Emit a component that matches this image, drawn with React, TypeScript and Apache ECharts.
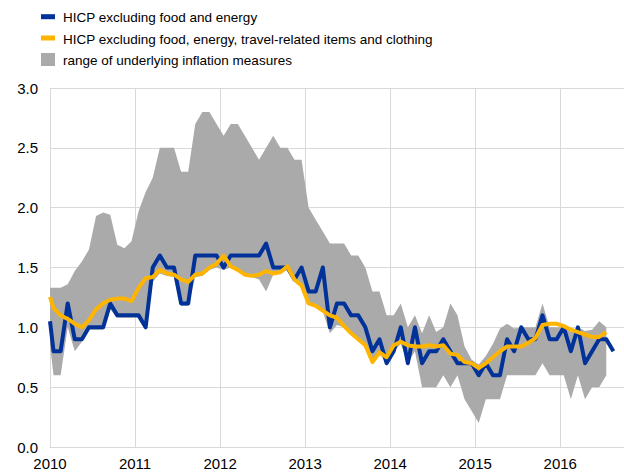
import React, { useEffect, useRef } from "react";
import * as echarts from "echarts";

// Monthly observations, first entry = December 2009
const firstMonth = "2009-12";
const yearTicks = ["2010", "2011", "2012", "2013", "2014", "2015", "2016"];

// HICP excluding food and energy (Dec 2009 - Aug 2016)
const hicpExFoodEnergy = [
  1.3,
  0.8, 0.8, 1.2, 0.9, 0.9, 1.0, 1.0, 1.0, 1.2, 1.1, 1.1, 1.1,
  1.1, 1.0, 1.5, 1.6, 1.5, 1.5, 1.2, 1.2, 1.6, 1.6, 1.6, 1.6,
  1.5, 1.6, 1.6, 1.6, 1.6, 1.6, 1.7, 1.5, 1.5, 1.5, 1.4, 1.5,
  1.3, 1.3, 1.5, 1.0, 1.2, 1.2, 1.1, 1.1, 1.0, 0.8, 0.9, 0.7,
  0.8, 1.0, 0.7, 1.0, 0.7, 0.8, 0.8, 0.9, 0.8, 0.7, 0.7, 0.7,
  0.6, 0.7, 0.6, 0.6, 0.9, 0.8, 1.0, 0.9, 0.9, 1.1, 0.9, 0.9,
  1.0, 0.8, 1.0, 0.7, 0.8, 0.9, 0.9, 0.8,
];

// HICP excluding food, energy, travel-related items and clothing (Dec 2009 - Jul 2016)
const hicpExTravelClothing = [
  1.35,
  1.16, 1.10, 1.07, 1.03, 1.00, 1.06, 1.15, 1.20, 1.23, 1.24, 1.24, 1.22,
  1.33, 1.41, 1.42, 1.48, 1.45, 1.44, 1.40, 1.38, 1.44, 1.45, 1.50, 1.53,
  1.60, 1.51, 1.48, 1.44, 1.43, 1.44, 1.47, 1.45, 1.46, 1.51, 1.40, 1.35,
  1.20, 1.18, 1.14, 1.10, 1.08, 1.01, 0.95, 0.90, 0.85, 0.71, 0.79, 0.75,
  0.85, 0.88, 0.85, 0.84, 0.84, 0.85, 0.84, 0.85, 0.78, 0.77, 0.71, 0.70,
  0.66, 0.70, 0.75, 0.80, 0.84, 0.84, 0.84, 0.87, 0.91, 1.02, 1.03, 1.03,
  1.01, 0.98, 0.96, 0.94, 0.92, 0.92, 0.96,
];

// Range of underlying inflation measures (Dec 2009 - Jul 2016)
const rangeUpper = [
  1.33,
  1.33, 1.33, 1.36, 1.47, 1.55, 1.65, 1.93, 1.96, 1.94, 1.69, 1.66, 1.72,
  1.97, 2.13, 2.25, 2.5, 2.5, 2.5, 2.3, 2.3, 2.7, 2.8, 2.8, 2.7,
  2.6, 2.7, 2.7, 2.6, 2.5, 2.4, 2.5, 2.6, 2.5, 2.5, 2.4, 2.4,
  2.0, 1.9, 1.8, 1.7, 1.7, 1.7, 1.6, 1.6, 1.5, 1.3, 1.3, 1.1,
  1.1, 1.2, 1.0, 1.1, 0.95, 1.1, 0.96, 1.0, 1.2, 1.1, 0.84, 0.73,
  0.69, 0.76, 0.86, 0.99, 1.03, 0.99, 1.0, 1.0, 1.0, 1.2, 1.0, 1.0,
  1.0, 0.96, 1.0, 0.97, 0.98, 1.05, 1.0,
];
const rangeLower = [
  1.1,
  0.6, 0.6, 1.0, 0.8, 0.88, 0.98, 0.98, 0.98, 1.15, 1.08, 1.08, 1.08,
  1.08, 0.98, 1.38, 1.45, 1.43, 1.42, 1.18, 1.18, 1.42, 1.43, 1.48, 1.5,
  1.48, 1.5, 1.47, 1.43, 1.42, 1.4, 1.3, 1.44, 1.45, 1.48, 1.38, 1.33,
  1.19, 1.17, 1.13, 0.95, 1.02, 1.0, 0.94, 0.89, 0.84, 0.7, 0.78, 0.7,
  0.8, 0.86, 0.7, 0.8, 0.5, 0.5, 0.5, 0.6, 0.5, 0.6, 0.4, 0.3,
  0.2, 0.4, 0.4, 0.4, 0.6, 0.6, 0.6, 0.6, 0.6, 0.7, 0.6, 0.6,
  0.6, 0.4, 0.6, 0.4, 0.5, 0.5, 0.6,
];

const legendLabels = [
  "HICP excluding food and energy",
  "HICP excluding food, energy, travel-related items and clothing",
  "range of underlying inflation measures",
];

const FONT = "'Liberation Sans', Arial, Helvetica, sans-serif";
const BLUE = "#003299";
const YELLOW = "#ffb400";
const GREY = "#aaaaaa";
const GRIDC = "#d9d9d9";

// x position: months since 1 Jan 2010, observation placed mid-month
const startOffset = (() => {
  const [y, m] = firstMonth.split("-").map(Number);
  return (y - 2010) * 12 + (m - 1);
})();
const xOf = (k: number) => startOffset + k + 0.5;

// keep only the part of a polyline at x >= 0 (axis start), interpolating the crossing
const clipLeft = (pts: number[][]) => {
  const out: number[][] = [];
  for (let i = 0; i < pts.length; i++) {
    const [x, v] = pts[i];
    if (x >= 0) {
      if (i > 0 && pts[i - 1][0] < 0) {
        const [x0, v0] = pts[i - 1];
        const t = (0 - x0) / (x - x0);
        out.push([0, v0 + t * (v - v0)]);
      }
      out.push([x, v]);
    }
  }
  return out;
};

export default function App() {
  const ref = useRef<HTMLDivElement>(null);
  useEffect(() => {
    if (!ref.current) return;
    const chart = echarts.init(ref.current, null, { renderer: "svg" });
    const toPairs = (arr: number[]) => arr.map((v, k) => [xOf(k), v]);
    const upperPts = clipLeft(toPairs(rangeUpper));
    const lowerPts = clipLeft(toPairs(rangeLower));

    const legendRows = [
      { color: BLUE, h: 5, cy: 16.7 },
      { color: YELLOW, h: 5, cy: 38 },
      { color: GREY, h: 13, cy: 59.5 },
    ];
    const graphic: any[] = [];
    legendRows.forEach((r, i) => {
      graphic.push({
        type: "rect",
        shape: { x: 41, y: r.cy - r.h / 2, width: 14, height: r.h },
        style: { fill: r.color },
        silent: true,
      });
      graphic.push({
        type: "text",
        x: 63,
        y: r.cy + 1,
        style: {
          text: legendLabels[i],
          fill: "#000",
          fontSize: 13.5,
          fontFamily: FONT,
          verticalAlign: "middle",
          align: "left",
        },
        silent: true,
      });
    });

    chart.setOption({
      animation: false,
      grid: { left: 50, right: -4, top: 88, bottom: 25, containLabel: false },
      xAxis: {
        type: "value",
        min: 0,
        max: 81,
        interval: 12,
        axisLine: { show: true, lineStyle: { color: GRIDC, width: 1 } },
        axisTick: { show: false },
        splitLine: { show: true, lineStyle: { color: GRIDC, width: 1 } },
        axisLabel: {
          color: "#000",
          fontSize: 15,
          fontFamily: FONT,
          margin: 9,
          showMaxLabel: false,
          formatter: (v: number) => (v % 12 === 0 ? yearTicks[v / 12] ?? "" : ""),
        },
      },
      yAxis: {
        type: "value",
        min: 0,
        max: 3,
        interval: 0.5,
        axisLine: { show: false },
        axisTick: { show: false },
        splitLine: { show: true, lineStyle: { color: GRIDC, width: 1 } },
        axisLabel: {
          color: "#000",
          fontSize: 15,
          fontFamily: FONT,
          margin: 12,
          formatter: (v: number) => v.toFixed(1),
        },
      },
      graphic,
      series: [
        {
          type: "custom",
          name: legendLabels[2],
          data: [[0, 0]],
          silent: true,
          z: 1,
          renderItem: (params: any, api: any) => {
            if (params.dataIndex !== 0) return null;
            const top = upperPts.map((p) => api.coord(p));
            const bottom = lowerPts.map((p) => api.coord(p)).reverse();
            return {
              type: "polygon",
              shape: { points: top.concat(bottom) },
              style: { fill: GREY, stroke: null },
            };
          },
        },
        {
          type: "line",
          name: legendLabels[0],
          data: clipLeft(toPairs(hicpExFoodEnergy)),
          symbol: "none",
          lineStyle: { color: BLUE, width: 4, join: "round", cap: "butt" },
          z: 3,
        },
        {
          type: "line",
          name: legendLabels[1],
          data: clipLeft(toPairs(hicpExTravelClothing)),
          symbol: "none",
          lineStyle: { color: YELLOW, width: 4, join: "round", cap: "butt" },
          z: 4,
        },
      ],
    });
    return () => chart.dispose();
  }, []);
  return (
    <div
      ref={ref}
      style={{ position: "fixed", left: 0, top: 0, width: 624, height: 472, background: "#fff" }}
    />
  );
}
